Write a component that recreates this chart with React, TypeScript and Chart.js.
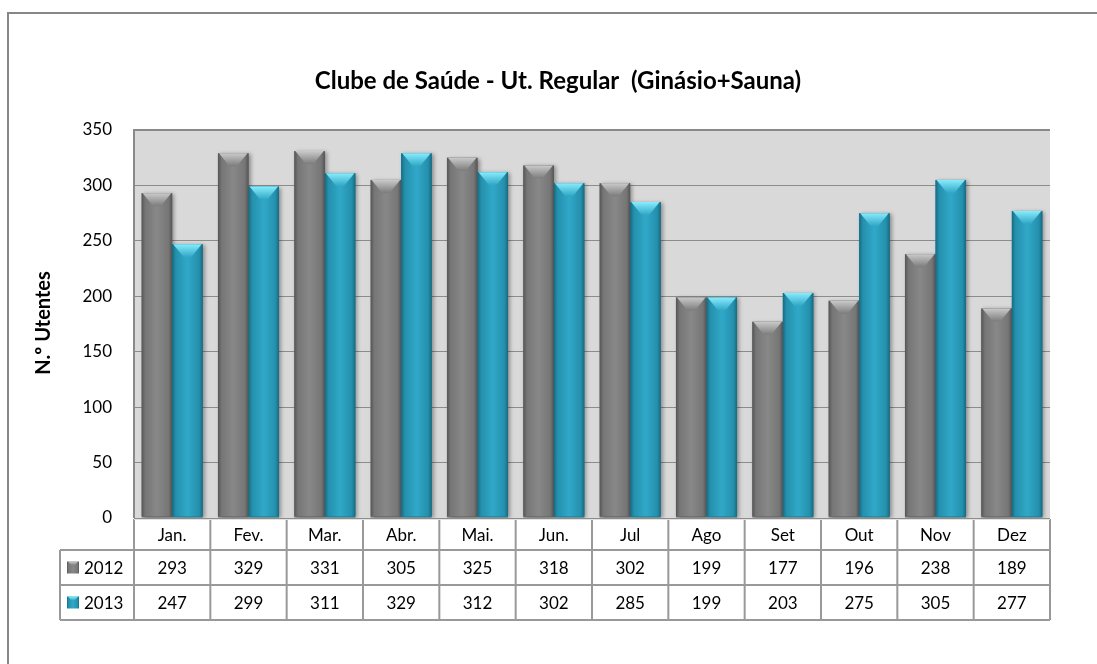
import React, { useEffect, useRef } from "react";
import { Chart, registerables } from "chart.js";
Chart.register(...registerables);

const chartTitle = "Clube de Saúde - Ut. Regular  (Ginásio+Sauna)";
const yAxisTitle = "N.º Utentes";
const months = ["Jan.", "Fev.", "Mar.", "Abr.", "Mai.", "Jun.", "Jul", "Ago", "Set", "Out", "Nov", "Dez"];
const seriesLabels = ["2012", "2013"];
const values2012 = [293, 329, 331, 305, 325, 318, 302, 199, 177, 196, 238, 189];
const values2013 = [247, 299, 311, 329, 312, 302, 285, 199, 203, 275, 305, 277];
const yMin = 0;
const yMax = 350;
const yStep = 50;

const FONT = "Lato, 'Open Sans', sans-serif";

const palettes = [
  { edge: "#555555", side: "#767676", mid: "#888888", topA: "#cacaca", topB: "#7c7c7c" },
  { edge: "#176a80", side: "#2490ad", mid: "#31a8c8", topA: "#88ecfc", topB: "#2fa6c6" },
];

function drawBevelBar(ctx: CanvasRenderingContext2D, left: number, top: number, w: number, bottom: number, p: any, shadow: boolean, depth: number) {
  const h = bottom - top;
  if (h <= 0) return;
  ctx.save();
  if (shadow) {
    ctx.shadowColor = "rgba(0,0,0,0.35)";
    ctx.shadowBlur = 4;
    ctx.shadowOffsetX = 2;
    ctx.shadowOffsetY = 1;
  }
  const g = ctx.createLinearGradient(left, 0, left + w, 0);
  g.addColorStop(0, p.edge);
  g.addColorStop(0.12, p.side);
  g.addColorStop(0.5, p.mid);
  g.addColorStop(0.88, p.side);
  g.addColorStop(1, p.edge);
  ctx.fillStyle = g;
  ctx.fillRect(left, top, w, h);
  ctx.restore();
  // top bevel (chevron)
  const d = Math.min(depth, h);
  const inset = w * 0.38;
  ctx.save();
  const tg = ctx.createLinearGradient(0, top, 0, top + d);
  tg.addColorStop(0, p.topA);
  tg.addColorStop(1, p.topB);
  ctx.fillStyle = tg;
  ctx.beginPath();
  ctx.moveTo(left + 1, top);
  ctx.lineTo(left + w - 1, top);
  ctx.lineTo(left + w - inset, top + d);
  ctx.lineTo(left + inset, top + d);
  ctx.closePath();
  ctx.fill();
  ctx.restore();
}

const customPlugin = {
  id: "excelLook",
  beforeDraw(chart: any) {
    const { ctx, chartArea: a } = chart;
    ctx.save();
    ctx.fillStyle = "#ffffff";
    ctx.fillRect(0, 0, chart.width, chart.height);
    ctx.strokeStyle = "#878787";
    ctx.lineWidth = 2;
    ctx.strokeRect(8, 13, 1400, 1000);
    ctx.fillStyle = "#d9d9d9";
    ctx.fillRect(a.left, a.top, a.right - a.left, a.bottom - a.top);
    // title
    ctx.fillStyle = "#000";
    ctx.font = `bold 24px ${FONT}`;
    ctx.textAlign = "center";
    ctx.textBaseline = "middle";
    ctx.fillText(chartTitle, 558, 81);
    // y title
    ctx.save();
    ctx.translate(44, 323);
    ctx.rotate(-Math.PI / 2);
    ctx.font = `bold 20px ${FONT}`;
    ctx.fillText(yAxisTitle, 0, 0);
    ctx.restore();
    ctx.restore();
  },
  afterDatasetsDraw(chart: any) {
    const { ctx, chartArea: a } = chart;
    ctx.save();
    ctx.beginPath();
    ctx.rect(a.left, a.top - 2, a.right - a.left, a.bottom - a.top + 2);
    ctx.clip();
    chart.data.datasets.forEach((_: any, di: number) => {
      const meta = chart.getDatasetMeta(di);
      meta.data.forEach((el: any) => {
        const { x, y, base, width } = el.getProps(["x", "y", "base", "width"], true);
        drawBevelBar(ctx, x - width / 2, y, width, base - 1, palettes[di], true, 13);
      });
    });
    ctx.restore();
    // plot border
    ctx.save();
    ctx.strokeStyle = "#8a8a8a";
    ctx.lineWidth = 2;
    ctx.beginPath();
    ctx.moveTo(a.left, a.bottom);
    ctx.lineTo(a.left, a.top);
    ctx.lineTo(a.right, a.top);
    ctx.stroke();
    ctx.restore();
  },
  afterDraw(chart: any) {
    const { ctx, chartArea: a } = chart;
    const n = months.length;
    const colW = (a.right - a.left) / n;
    const hTop = a.bottom + 1;
    const hBot = a.bottom + 32;
    const rowH = 35;
    const legendLeft = 60;
    ctx.save();
    ctx.fillStyle = "#ffffff";
    ctx.fillRect(a.left, hTop, a.right - a.left, hBot - hTop + rowH * 2);
    ctx.fillRect(legendLeft, hBot, a.left - legendLeft, rowH * 2);
    ctx.strokeStyle = "#999999";
    ctx.lineWidth = 2;
    ctx.beginPath();
    for (let i = 0; i <= n; i++) {
      const x = a.left + i * colW;
      ctx.moveTo(x, hTop);
      ctx.lineTo(x, hBot + rowH * 2);
    }
    ctx.moveTo(legendLeft, hBot);
    ctx.lineTo(legendLeft, hBot + rowH * 2);
    for (let r = 0; r <= 2; r++) {
      const y = hBot + r * rowH;
      ctx.moveTo(legendLeft, y);
      ctx.lineTo(a.right, y);
    }
    ctx.stroke();
    ctx.strokeStyle = "#e2e2e2";
    ctx.lineWidth = 1;
    ctx.beginPath();
    ctx.moveTo(a.left, hTop + 0.5);
    ctx.lineTo(a.right, hTop + 0.5);
    ctx.stroke();

    ctx.fillStyle = "#000";
    ctx.font = `17px ${FONT}`;
    ctx.textAlign = "center";
    ctx.textBaseline = "middle";
    months.forEach((m, i) => {
      ctx.fillText(m, a.left + (i + 0.5) * colW, (hTop + hBot) / 2 + 1);
    });
    const rows = [values2012, values2013];
    rows.forEach((vals, r) => {
      const cy = hBot + (r + 0.5) * rowH + 1;
      vals.forEach((v, i) => {
        ctx.fillText(String(v), a.left + (i + 0.5) * colW, cy);
      });
    });
    seriesLabels.forEach((lab, r) => {
      const cy = hBot + (r + 0.5) * rowH;
      drawBevelBar(ctx, 67, cy - 6, 12, cy + 6, palettes[r], false, 4);
      ctx.textAlign = "left";
      ctx.fillStyle = "#000";
      ctx.fillText(lab, 84, cy + 1);
    });
    ctx.restore();
  },
};

export default function App() {
  const ref = useRef<HTMLCanvasElement>(null);
  useEffect(() => {
    const canvas = ref.current!;
    const chart = new Chart(canvas, {
      type: "bar",
      data: {
        labels: months,
        datasets: [
          { label: seriesLabels[0], data: values2012, backgroundColor: "#7f7f7f", borderWidth: 0 },
          { label: seriesLabels[1], data: values2013, backgroundColor: "#2aa0c0", borderWidth: 0 },
        ],
      },
      options: {
        responsive: false,
        animation: false,
        layout: { padding: { top: 130, right: 47, bottom: 146, left: 0 } },
        datasets: { bar: { categoryPercentage: 0.8, barPercentage: 1 } },
        plugins: {
          legend: { display: false },
          title: { display: false },
          tooltip: { enabled: false },
        },
        scales: {
          x: { display: false },
          y: {
            min: yMin,
            max: yMax,
            ticks: { stepSize: yStep, padding: 22, color: "#000", font: { family: FONT, size: 17 } },
            grid: { color: "#8c8c8c", lineWidth: 1, drawTicks: false },
            border: { display: false },
            afterFit: (s: any) => {
              s.width = 134;
            },
          },
        },
      },
      plugins: [customPlugin],
    } as any);
    return () => chart.destroy();
  }, []);
  return (
    <div style={{ position: "absolute", left: 0, top: 0, width: 1097, height: 664 }}>
      <canvas ref={ref} width={1097} height={664} style={{ display: "block", width: 1097, height: 664 }} />
    </div>
  );
}
